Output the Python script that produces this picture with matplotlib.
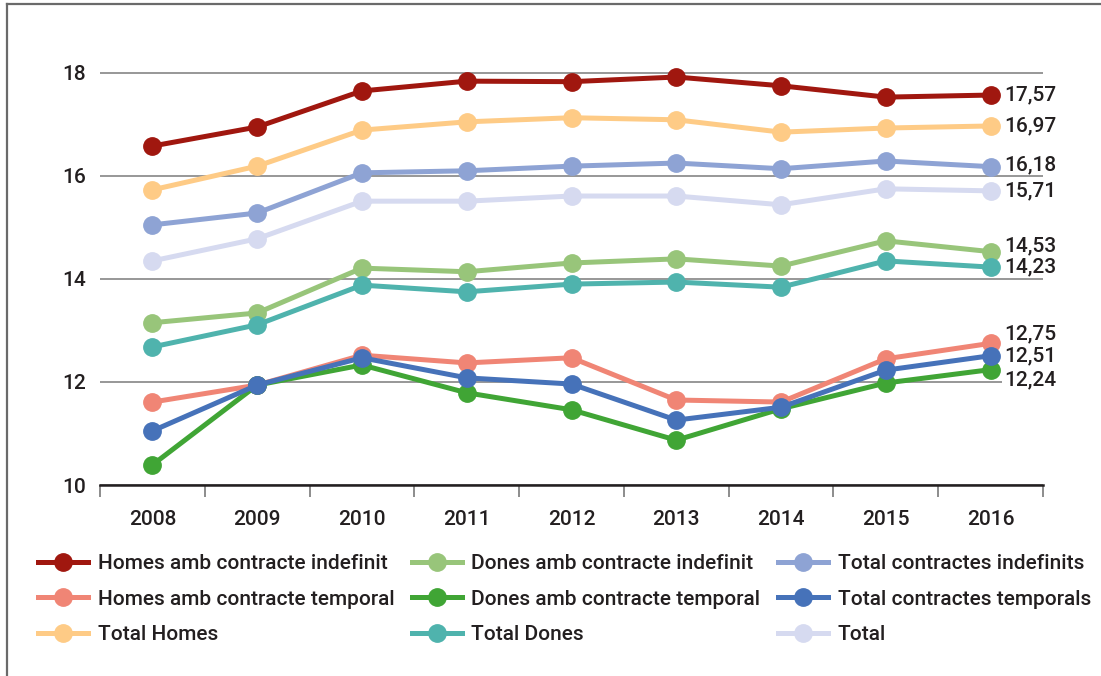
import matplotlib
matplotlib.use("Agg")
import matplotlib.pyplot as plt
from matplotlib.lines import Line2D
import numpy as np

# ── Dades ────────────────────────────────────────────────────────────────────
YEARS = ["2008", "2009", "2010", "2011", "2012", "2013", "2014", "2015", "2016"]

homes_indefinit = [16.58, 16.95, 17.65, 17.84, 17.83, 17.92, 17.75, 17.53, 17.57]
homes_temporal = [11.61, 11.94, 12.52, 12.37, 12.47, 11.65, 11.61, 12.45, 12.75]
total_homes = [15.73, 16.19, 16.89, 17.05, 17.13, 17.09, 16.85, 16.93, 16.97]
dones_indefinit = [13.15, 13.34, 14.21, 14.14, 14.31, 14.39, 14.25, 14.74, 14.53]
dones_temporal = [10.39, 11.94, 12.33, 11.79, 11.46, 10.87, 11.48, 11.98, 12.24]
total_dones = [12.68, 13.11, 13.88, 13.75, 13.90, 13.94, 13.84, 14.35, 14.23]
total_indefinits = [15.05, 15.28, 16.06, 16.10, 16.19, 16.25, 16.14, 16.29, 16.18]
total_temporals = [11.05, 11.94, 12.47, 12.08, 11.96, 11.26, 11.51, 12.23, 12.51]
total = [14.35, 14.78, 15.51, 15.51, 15.61, 15.61, 15.44, 15.75, 15.71]

LABELS = [
    "Homes amb contracte indefinit", "Homes amb contracte temporal", "Total Homes",
    "Dones amb contracte indefinit", "Dones amb contracte temporal", "Total Dones",
    "Total contractes indefinits", "Total contractes temporals", "Total",
]
SERIES = [homes_indefinit, homes_temporal, total_homes,
          dones_indefinit, dones_temporal, total_dones,
          total_indefinits, total_temporals, total]
COLORS = ["#A0170F", "#F08575", "#FECB86",
          "#98C57A", "#40A535", "#4FB3AD",
          "#8EA3D4", "#4672B9", "#D6DAF0"]
# desplaçament vertical (punts) de l'etiqueta final de cada sèrie
LABEL_DY = [0, 7, 0, 4, -7.5, 0, 1.5, 0, 0]

plt.rcParams["font.family"] = ["Roboto", "DejaVu Sans"]
plt.rcParams["font.weight"] = "medium"
TEXT = "#231f20"
FS = 15

fig = plt.figure(figsize=(11.01, 6.76), dpi=100)
ax = fig.add_axes([100 / 1101, (676 - 485) / 676, (1043 - 100) / 1101, 443 / 676])

x = np.arange(len(YEARS))
# ordre de dibuix: els totals i els de sota primer
draw_order = [8, 6, 2, 0, 5, 3, 1, 7, 4]
for i in draw_order:
    ax.plot(x, SERIES[i], color=COLORS[i], lw=3.6, marker="o",
            markersize=12.5, solid_capstyle="round", zorder=3 + i * 0.1)

for i in range(len(SERIES)):
    v = SERIES[i][-1]
    bbox = dict(facecolor="white", edgecolor="none", pad=1) if i == 4 else None
    ax.annotate(f"{v:.2f}".replace(".", ","), xy=(x[-1], v),
                xytext=(9.5, LABEL_DY[i]), textcoords="offset points",
                ha="left", va="center", fontsize=FS, color=TEXT,
                annotation_clip=False, bbox=bbox, zorder=2)

# ── Eixos ────────────────────────────────────────────────────────────────────
ax.set_xlim(-0.5, len(YEARS) - 0.5)
ax.set_ylim(10, 18.6)
ax.set_yticks([10, 12, 14, 16, 18])
ax.yaxis.grid(True, color="#7a7a7a", lw=1.1)
ax.set_axisbelow(True)
ax.tick_params(axis="y", length=0, pad=10, labelsize=FS, labelcolor=TEXT)

ax.set_xticks(x)
ax.set_xticklabels(YEARS)
ax.tick_params(axis="x", which="major", length=0, pad=18, labelsize=FS, labelcolor=TEXT)
ax.set_xticks(np.arange(-0.5, len(YEARS)), minor=True)
ax.tick_params(axis="x", which="minor", length=8.5, width=1.1, color="#6e6e6e")

for s in ["top", "right", "left"]:
    ax.spines[s].set_visible(False)
ax.spines["bottom"].set_color("#231f20")
ax.spines["bottom"].set_linewidth(1.8)

# ── Llegenda ─────────────────────────────────────────────────────────────────
leg_handles = [Line2D([], [], color=COLORS[i], lw=3.6, marker="o", markersize=12.5)
               for i in range(len(SERIES))]
fig.legend(leg_handles, LABELS, ncol=3, loc="upper left",
           bbox_to_anchor=(30 / 1101, 1 - 546 / 676), frameon=False,
           fontsize=FS, handlelength=2.4, handletextpad=0.45,
           columnspacing=0.85, labelspacing=0.78, labelcolor=TEXT,
           borderaxespad=0)

# ── Marc ─────────────────────────────────────────────────────────────────────
fig.add_artist(Line2D([7 / 1101, 7 / 1101], [0, 1 - 4 / 676], color="#6a6a6a",
                      lw=1.6, transform=fig.transFigure))
fig.add_artist(Line2D([7 / 1101, 1], [1 - 4 / 676, 1 - 4 / 676], color="#6a6a6a",
                      lw=1.6, transform=fig.transFigure))

fig.savefig("out.png", dpi=100)
